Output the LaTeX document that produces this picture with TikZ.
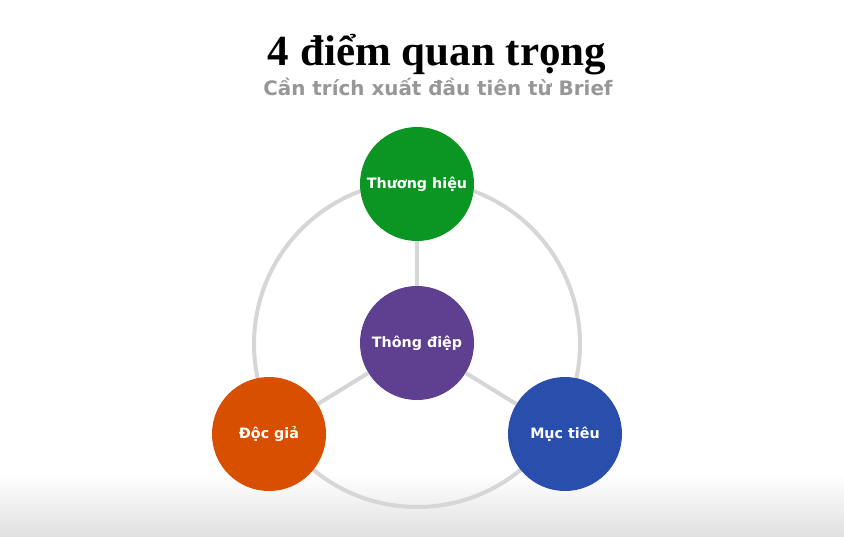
\documentclass[tikz,border=0pt]{standalone}
\usepackage{fontspec}
\setmainfont{Liberation Serif}
\newfontfamily\labelfont{DejaVu Sans}
\usetikzlibrary{shadings}
\definecolor{ringgray}{HTML}{D6D6D6}
\definecolor{subgray}{HTML}{979797}
\definecolor{cgreen}{HTML}{0B9624}
\definecolor{cpurple}{HTML}{5F3F90}
\definecolor{corange}{HTML}{D94F00}
\definecolor{cblue}{HTML}{2A4EAC}
\definecolor{fadegray}{HTML}{E0E0E0}
\tikzset{
  bubble/.style={circle, minimum size=114pt, inner sep=0pt, text=white,
    font=\labelfont\bfseries\fontsize{14.3}{16}\selectfont},
  link/.style={draw=ringgray, line width=4pt},
}
\begin{document}
\begin{tikzpicture}[x=1pt,y=-1pt]
\useasboundingbox (0,0) rectangle (844,536);
\fill[white] (0,0) rectangle (844,536);
\shade[top color=white, bottom color=fadegray] (0,474) rectangle (844,536);
\node[font=\bfseries\fontsize{43}{48}\selectfont, anchor=base] (title) at (437,65) {4 điểm quan trọng};
\node[font=\labelfont\bfseries\fontsize{19.9}{24}\selectfont, text=subgray, anchor=base] (subtitle) at (438,95) {Cần trích xuất đầu tiên từ Brief};
\coordinate (hub) at (417,344);
\draw[link] (hub) circle (163);
\node[bubble, fill=cpurple] (msg) at (417,343) {Thông điệp};
\node[bubble, fill=cgreen] (brand) at (417,184) {Thương hiệu};
\node[bubble, fill=corange] (reader) at (269,434) {Độc giả};
\node[bubble, fill=cblue] (goal) at (565,434) {Mục tiêu};
\draw[link] (msg) -- (brand);
\draw[link] (msg) -- (reader);
\draw[link] (msg) -- (goal);
\end{tikzpicture}
\end{document}
